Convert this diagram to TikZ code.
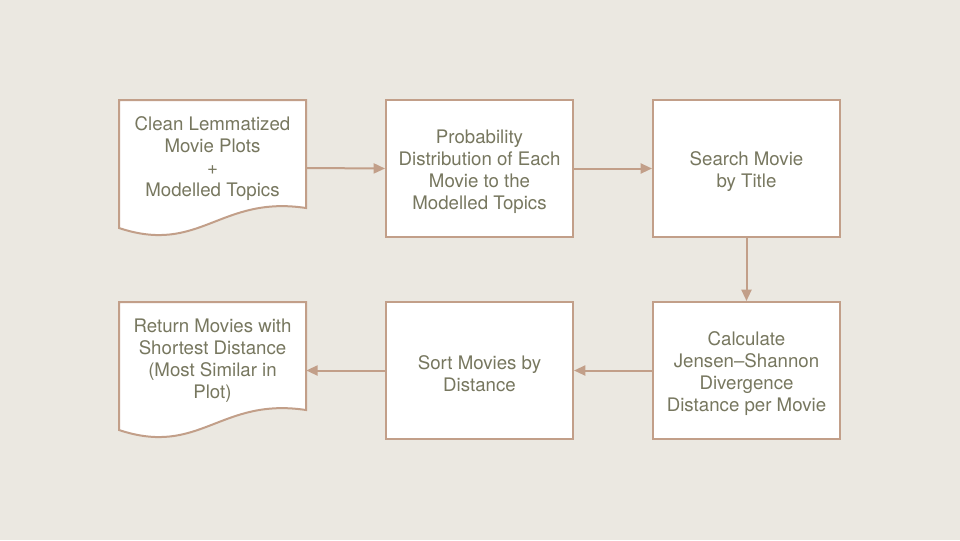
\documentclass[tikz,border=0pt]{standalone}
\usepackage{fontspec}
\setmainfont{TeX Gyre Heros}
\usetikzlibrary{arrows.meta}
\definecolor{bg}{HTML}{EBE8E1}
\definecolor{edge}{HTML}{C29F89}
\definecolor{txt}{HTML}{77775F}
\tikzset{
  px/.style={x=0.75pt,y=-0.75pt},
  stepbox/.style={draw=edge,line width=1.5pt,fill=white,minimum width=140.25pt,minimum height=102.75pt,inner sep=0pt},
  docarea/.style={minimum width=140.25pt,minimum height=102pt,inner sep=0pt},
  label/.style={text=txt,align=center,font=\fontsize{14pt}{16.5pt}\selectfont},
  docline/.style={draw=edge,line width=1.5pt,fill=white,line join=miter},
  conn/.style={draw=edge,line width=1.5pt,-{Triangle[length=8.5pt,width=7.5pt]}}
}
\begin{document}
\begin{tikzpicture}[px]
\fill[bg] (0,0) rectangle (960,540);
\useasboundingbox (0,0) rectangle (960,540);
% document shapes
\path[docline] (119,100) -- (306,100) -- (306,208) .. controls (220,195) and (200,255) .. (119,228) -- cycle;
\path[docline] (119,302) -- (306,302) -- (306,410) .. controls (220,397) and (200,457) .. (119,430) -- cycle;
\node[docarea] (doca) at (212.5,168) {};
\node[label] (docatext) at (212.5,159) {Clean Lemmatized\\Movie Plots\\+\\Modelled Topics};
\node[docarea] (docb) at (212.5,370.5) {};
\node[label] (docbtext) at (212.5,361) {Return Movies with\\Shortest Distance\\(Most Similar in\\Plot)};
% boxes
\node[stepbox] (prob) at (479.5,168.5) {};
\node[stepbox] (search) at (746.5,168.5) {};
\node[stepbox] (calc) at (746.5,370.5) {};
\node[stepbox] (sort) at (479.5,370.5) {};
\node[label] (probtext) at (479.5,171.5) {Probability\\Distribution of Each\\Movie to the\\Modelled Topics};
\node[label] (searchtext) at (746.5,171.5) {Search Movie\\by Title};
\node[label] (calctext) at (746.5,373.5) {Calculate\\Jensen–Shannon\\Divergence\\Distance per Movie};
\node[label] (sorttext) at (479.5,373.5) {Sort Movies by\\Distance};
% connectors
\draw[conn] (doca.east) -- (prob.west);
\draw[conn] (prob.east) -- (search.west);
\draw[conn] (search.south) -- (calc.north);
\draw[conn] (calc.west) -- (sort.east);
\draw[conn] (sort.west) -- (docb.east);
\end{tikzpicture}
\end{document}
